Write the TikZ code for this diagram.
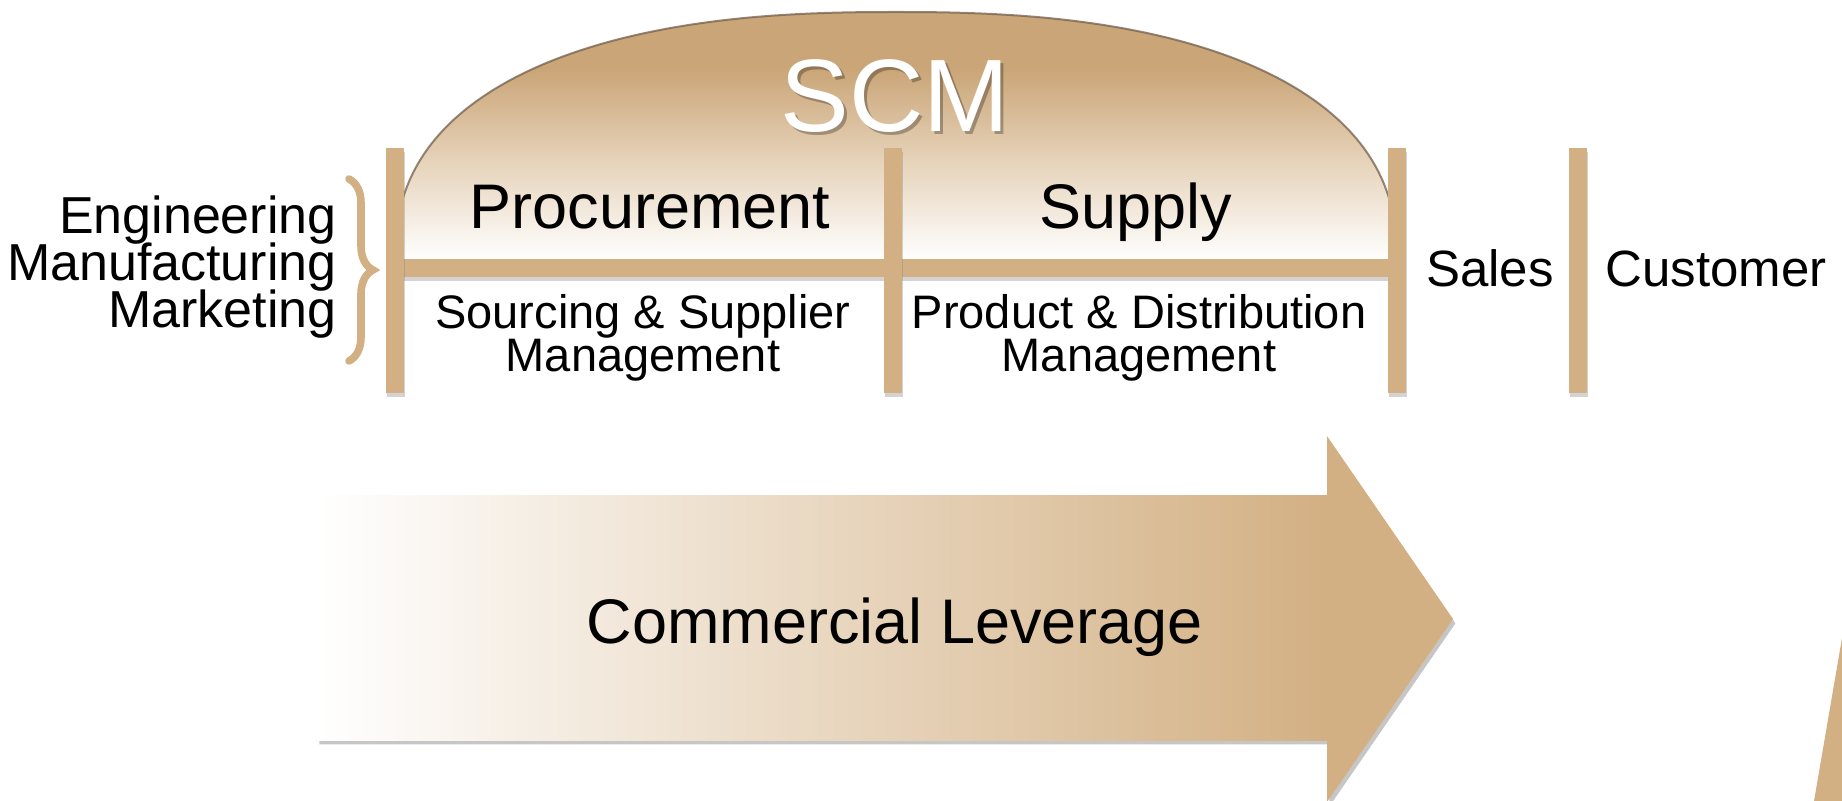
\documentclass[tikz,border=0pt]{standalone}
\usepackage{fontspec}
\setmainfont{Liberation Sans}
\usetikzlibrary{shadows,decorations.pathreplacing}
\definecolor{tanc}{RGB}{211,176,131}
\definecolor{domeTop}{RGB}{202,165,119}
\definecolor{domeMid}{RGB}{230,211,186}
\definecolor{rimcol}{RGB}{115,95,75}
\pgfdeclareverticalshading{domeshade}{100bp}{color(0bp)=(white); color(27bp)=(white); color(46bp)=(domeMid); color(64bp)=(domeTop); color(100bp)=(domeTop)}
\begin{document}
\begin{tikzpicture}[x=0.5pt,y=-0.5pt,
  barshade/.style={fill=tanc, draw=none, drop shadow={opacity=0.35, shadow xshift=0.4pt, shadow yshift=-1.8pt}},
  lbl/.style={inner sep=0pt, anchor=base, text=black},
  bigf/.style={font=\fontsize{31.5}{36}\selectfont},
  smallf/.style={font=\fontsize{23.5}{27}\selectfont},
  sidef/.style={font=\fontsize{26}{30}\selectfont},
  endf/.style={font=\fontsize{25.5}{30}\selectfont},
]
\useasboundingbox (0,0) rectangle (1842,801);

% dome (superellipse, exponent 2.4)
\path[shading=domeshade] (395,270) -- plot[variable=\t, domain=179.9:0.1, samples=60, smooth]
  ({896+501*cos(\t)*pow(abs(cos(\t)),-0.16667)}, {262-250*pow(sin(\t),0.83333)}) -- (1397,270) -- cycle;
\draw[rimcol, line width=1pt, opacity=0.75] plot[variable=\t, domain=179.9:0.1, samples=60, smooth]
  ({896+501*cos(\t)*pow(abs(cos(\t)),-0.16667)}, {262-250*pow(sin(\t),0.83333)});

% SCM title
\node[lbl, font=\fontsize{51.5}{60}\selectfont, text=black, opacity=0.28] at (898,135) {SCM};
\node[lbl, font=\fontsize{51.5}{60}\selectfont, text=white] (scm) at (895,131.5) {SCM};

% bars
\path[barshade] (395,259) rectangle (1397,277);
\path[barshade] (386,148) rectangle (404,393);
\path[barshade] (884,148) rectangle (902,393);
\path[barshade] (1388,148) rectangle (1406,393);
\path[barshade] (1569,148) rectangle (1587,393);

% brace
\draw[tanc, line width=3.8pt, line cap=round, decorate, decoration={brace, amplitude=12pt}]
  (349,179) -- (349,361);

% side labels
\node[lbl, sidef, anchor=base east] (eng) at (337,234) {Engineering};
\node[lbl, sidef, anchor=base east] (man) at (337,281) {Manufacturing};
\node[lbl, sidef, anchor=base east] (mkt) at (337,328) {Marketing};

% section labels
\node[lbl, bigf] (proc) at (650,229) {Procurement};
\node[lbl, bigf] (supp) at (1136,229) {Supply};
\node[lbl, smallf] (src1) at (643,329) {Sourcing \& Supplier};
\node[lbl, smallf] (src2) at (643,372) {Management};
\node[lbl, smallf] (prd1) at (1139,329) {Product \& Distribution};
\node[lbl, smallf] (prd2) at (1139,372) {Management};
\node[lbl, endf] (sales) at (1490,287) {Sales};
\node[lbl, endf] (cust) at (1716,287) {Customer};

% arrow
\fill[tanc, drop shadow={opacity=0.45, shadow xshift=1.2pt, shadow yshift=-2.2pt}]
  (317,496) -- (1327,496) -- (1327,436) -- (1453,619) -- (1327,802) -- (1327,740) -- (317,740) -- cycle;
\fill[left color=white, right color=tanc] (317,496) rectangle (1327,740);
\node[lbl, bigf] (lev) at (895,644) {Commercial Leverage};

% corner shape
\fill[tanc] (1842,638) -- (1814,801) -- (1842,801) -- cycle;
\end{tikzpicture}
\end{document}
